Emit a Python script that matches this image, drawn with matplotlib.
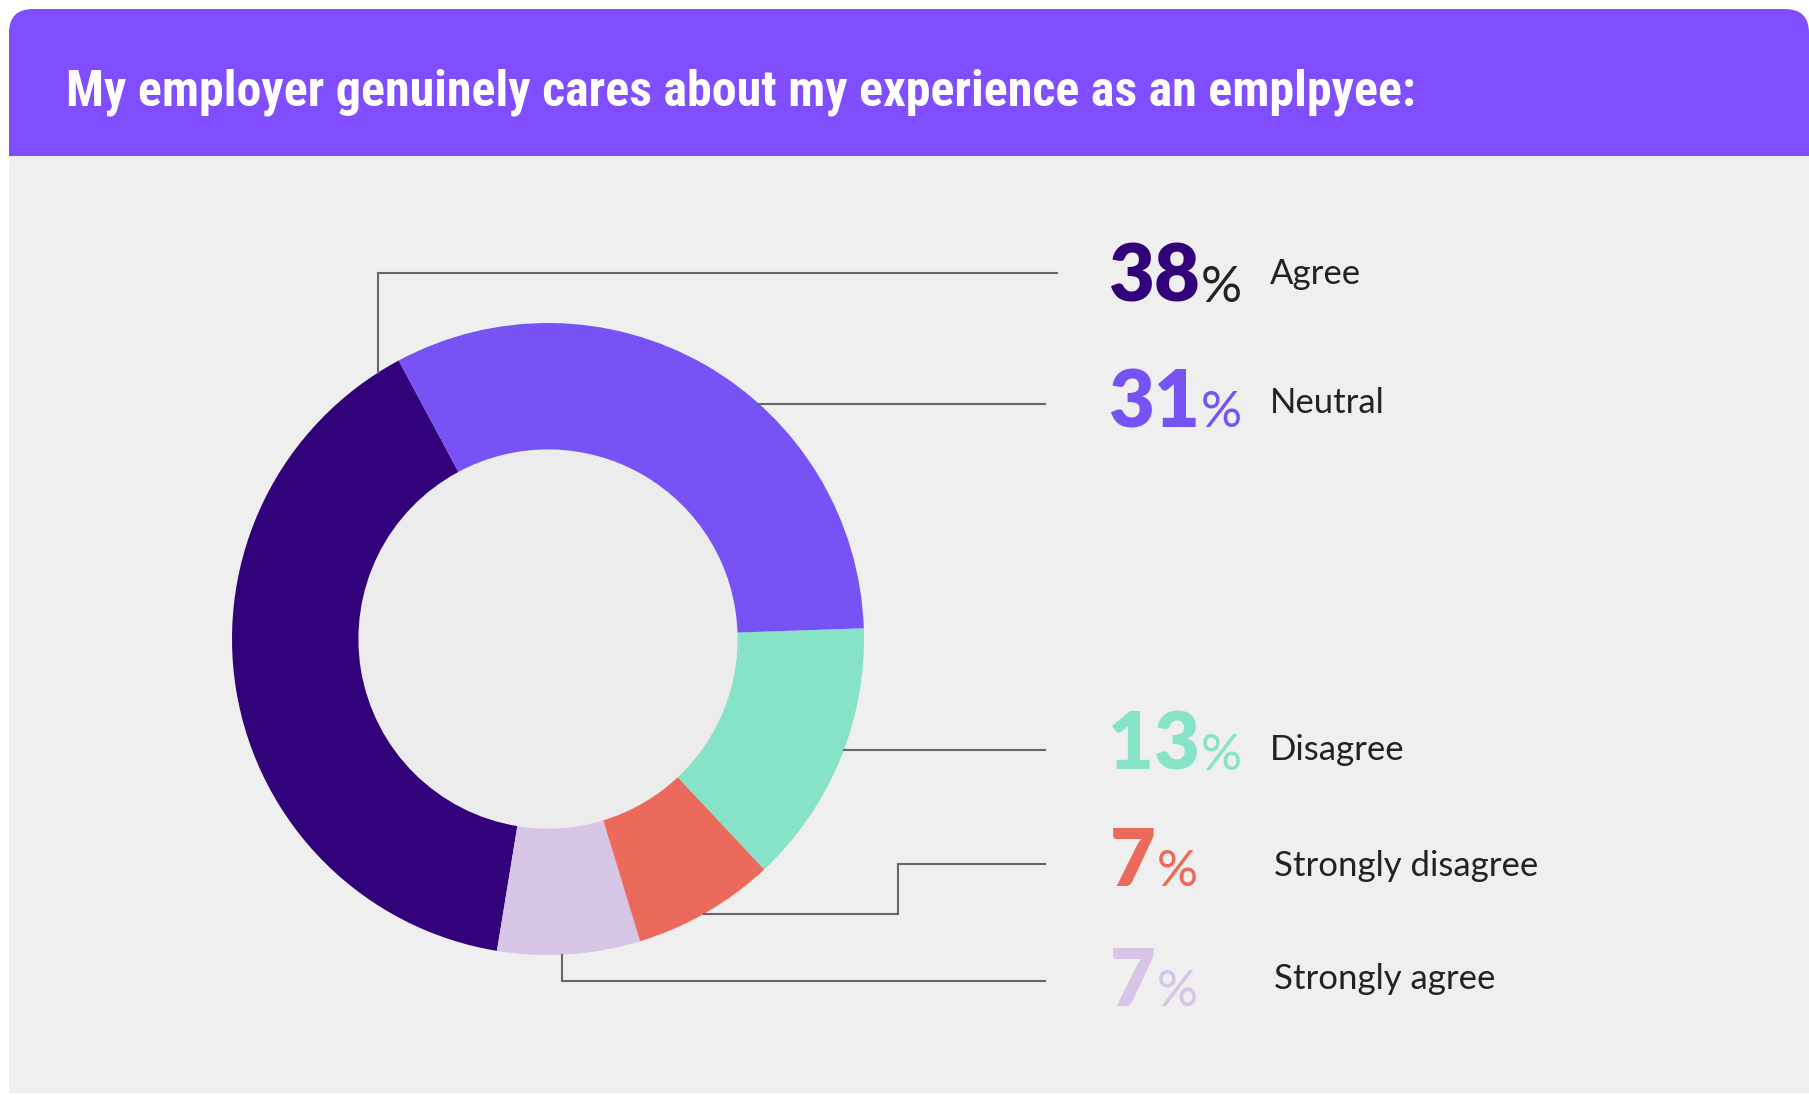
import numpy as np
import matplotlib.pyplot as plt
from matplotlib import font_manager
from matplotlib.patches import FancyBboxPatch, Rectangle, Circle

W, H = 1809, 1095

title = "My employer genuinely cares about my experience as an emplpyee:"
categories = ["Agree", "Neutral", "Disagree", "Strongly disagree", "Strongly agree"]
shares = [38, 31, 13, 7, 7]
colors = ["#31027a", "#7752f5", "#86e3c8", "#ec6a5c", "#d6c5e5"]
pct_colors = ["#222222", "#7752f5", "#86e3c8", "#ec6a5c", "#d6c5e5"]
# order of the segments around the ring, starting at the top-left and going anticlockwise
ring_order = [0, 4, 3, 2, 1]

# ring geometry (pixels, y grows downwards)
cx, cy, R = 548, 639, 316
ring_w = 0.4 * R

# prefer a narrow face for the header if one is around
installed = {f.name for f in font_manager.fontManager.ttflist}
title_family = "Roboto"
for name in ["Liberation Sans Narrow", "Roboto Condensed", "Open Sans Condensed", "DejaVu Sans Condensed"]:
    if name in installed:
        title_family = name
        break

fig = plt.figure(figsize=(W / 100, H / 100), dpi=100)
fig.patch.set_facecolor("white")
ax = fig.add_axes([0, 0, 1, 1])
ax.set_xlim(0, W)
ax.set_ylim(H, 0)
ax.axis("off")

# card body and purple header
ax.add_patch(Rectangle((9, 150), W - 9, 943, facecolor="#efefef", edgecolor="none", zorder=0))
ax.add_patch(FancyBboxPatch((9, 9), W - 9, 190, boxstyle="round,pad=0,rounding_size=24",
                            facecolor="#804dff", edgecolor="none", zorder=1))
ax.add_patch(Rectangle((9, 156), W - 9, 60, facecolor="#efefef", edgecolor="none", zorder=1))

# donut (y axis is flipped, so angles and direction are mirrored)
ax.pie([shares[i] for i in ring_order], colors=[colors[i] for i in ring_order],
       center=(cx, cy), radius=R, startangle=-118.2, counterclock=False,
       wedgeprops=dict(width=ring_w, linewidth=0))
ax.add_patch(Circle((cx, cy), R - ring_w, facecolor="#ececec", edgecolor="none", zorder=0.5))
ax.set_xlim(0, W)
ax.set_ylim(H, 0)
ax.set_aspect("auto")


def edge_y(x, top=True):
    d = np.sqrt(R ** 2 - (x - cx) ** 2)
    return cy - d if top else cy + d


def edge_x(y):
    return cx + np.sqrt(R ** 2 - (y - cy) ** 2)


# leader lines from the ring to each label row
leaders = [
    [(378, edge_y(378)), (378, 273), (1057, 273)],
    [(edge_x(404), 404), (1045, 404)],
    [(edge_x(750), 750), (1045, 750)],
    [(edge_x(914), 914), (898, 914), (898, 864), (1045, 864)],
    [(562, edge_y(562, top=False)), (562, 981), (1045, 981)],
]
for pts in leaders:
    xs, ys = zip(*pts)
    ax.plot(xs, ys, color="#666666", lw=1.5, solid_joinstyle="miter", zorder=2)

fig.canvas.draw()
renderer = fig.canvas.get_renderer()

# header title, sized to span the same width as the original line
tt = ax.text(66, 106, title, color="white", fontsize=37, fontweight="bold",
             family=title_family, va="baseline", ha="left", zorder=3)
tw = tt.get_window_extent(renderer).width
if tw > 1352:
    tt.set_fontsize(37 * 1352 / tw)

num_base = [302, 427, 770, 886, 1006]
lab_base = [284, 413, 760, 876, 989]
num_x = [1108, 1108, 1108, 1110, 1110]
lab_x = [1270, 1270, 1270, 1274, 1274]

for i, cat in enumerate(categories):
    t = ax.text(num_x[i], num_base[i], f"{shares[i]}", color=colors[i], fontsize=57,
                fontweight="heavy", family="Lato", va="baseline", ha="left")
    bb = t.get_window_extent(renderer)
    x_end = ax.transData.inverted().transform((bb.x1, bb.y0))[0]
    ax.text(x_end + 1, num_base[i], "%", color=pct_colors[i], fontsize=37,
            fontweight="normal", family="Lato", va="baseline", ha="left")
    ax.text(lab_x[i], lab_base[i], cat, color="#222222", fontsize=25,
            family="Lato", va="baseline", ha="left")

fig.savefig("out.png", dpi=100, facecolor="white")
